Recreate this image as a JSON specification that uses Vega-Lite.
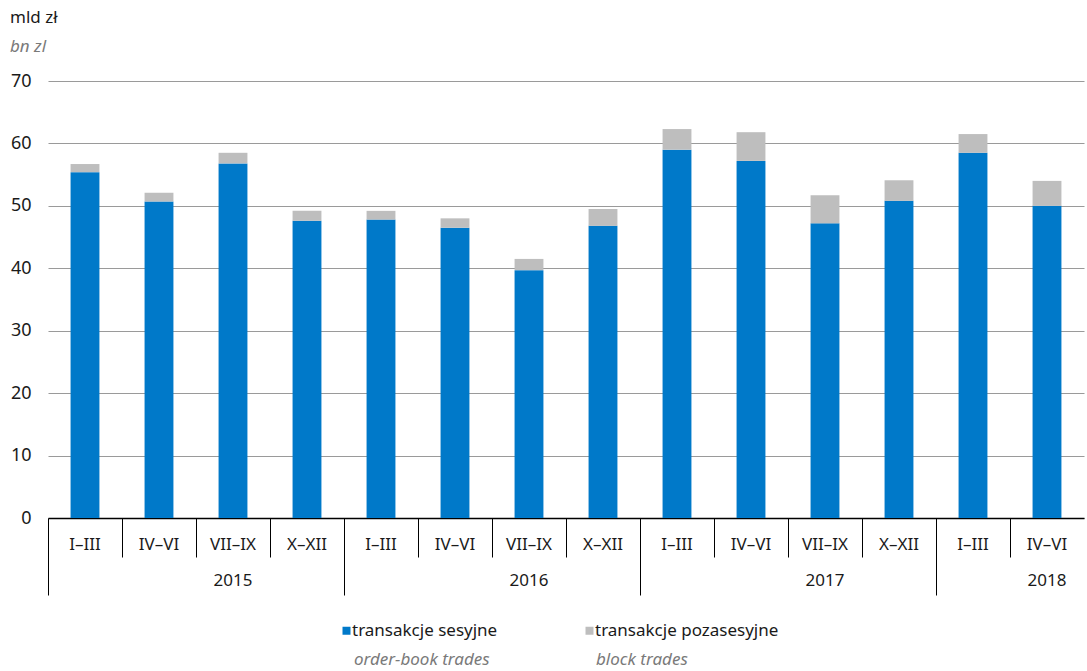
{
  "$schema": "https://vega.github.io/schema/vega-lite/v6.json",
  "width": 1036,
  "height": 437,
  "autosize": {"type": "none"},
  "padding": {"left": 48, "top": 81, "right": 3, "bottom": 153},
  "background": "white",
  "title": {
    "text": "mld zł",
    "subtitle": "bn zl",
    "anchor": "start",
    "frame": "group",
    "dx": -38,
    "offset": 16,
    "font": "Noto Sans",
    "fontSize": 17,
    "fontWeight": "normal",
    "color": "#1a1a1a",
    "subtitleFont": "Noto Sans",
    "subtitleFontSize": 17,
    "subtitleFontStyle": "italic",
    "subtitleColor": "#7a7a7a",
    "subtitlePadding": 12
  },
  "data": {
    "values": [
      {"okres": "2015 I–III", "typ": "transakcje sesyjne", "en": "order-book trades", "ord": 1, "v": 55.4},
      {"okres": "2015 I–III", "typ": "transakcje pozasesyjne", "en": "block trades", "ord": 2, "v": 1.3},
      {"okres": "2015 IV–VI", "typ": "transakcje sesyjne", "en": "order-book trades", "ord": 1, "v": 50.7},
      {"okres": "2015 IV–VI", "typ": "transakcje pozasesyjne", "en": "block trades", "ord": 2, "v": 1.4},
      {"okres": "2015 VII–IX", "typ": "transakcje sesyjne", "en": "order-book trades", "ord": 1, "v": 56.8},
      {"okres": "2015 VII–IX", "typ": "transakcje pozasesyjne", "en": "block trades", "ord": 2, "v": 1.7},
      {"okres": "2015 X–XII", "typ": "transakcje sesyjne", "en": "order-book trades", "ord": 1, "v": 47.6},
      {"okres": "2015 X–XII", "typ": "transakcje pozasesyjne", "en": "block trades", "ord": 2, "v": 1.6},
      {"okres": "2016 I–III", "typ": "transakcje sesyjne", "en": "order-book trades", "ord": 1, "v": 47.8},
      {"okres": "2016 I–III", "typ": "transakcje pozasesyjne", "en": "block trades", "ord": 2, "v": 1.4},
      {"okres": "2016 IV–VI", "typ": "transakcje sesyjne", "en": "order-book trades", "ord": 1, "v": 46.5},
      {"okres": "2016 IV–VI", "typ": "transakcje pozasesyjne", "en": "block trades", "ord": 2, "v": 1.5},
      {"okres": "2016 VII–IX", "typ": "transakcje sesyjne", "en": "order-book trades", "ord": 1, "v": 39.7},
      {"okres": "2016 VII–IX", "typ": "transakcje pozasesyjne", "en": "block trades", "ord": 2, "v": 1.8},
      {"okres": "2016 X–XII", "typ": "transakcje sesyjne", "en": "order-book trades", "ord": 1, "v": 46.8},
      {"okres": "2016 X–XII", "typ": "transakcje pozasesyjne", "en": "block trades", "ord": 2, "v": 2.7},
      {"okres": "2017 I–III", "typ": "transakcje sesyjne", "en": "order-book trades", "ord": 1, "v": 59.0},
      {"okres": "2017 I–III", "typ": "transakcje pozasesyjne", "en": "block trades", "ord": 2, "v": 3.3},
      {"okres": "2017 IV–VI", "typ": "transakcje sesyjne", "en": "order-book trades", "ord": 1, "v": 57.2},
      {"okres": "2017 IV–VI", "typ": "transakcje pozasesyjne", "en": "block trades", "ord": 2, "v": 4.6},
      {"okres": "2017 VII–IX", "typ": "transakcje sesyjne", "en": "order-book trades", "ord": 1, "v": 47.2},
      {"okres": "2017 VII–IX", "typ": "transakcje pozasesyjne", "en": "block trades", "ord": 2, "v": 4.5},
      {"okres": "2017 X–XII", "typ": "transakcje sesyjne", "en": "order-book trades", "ord": 1, "v": 50.8},
      {"okres": "2017 X–XII", "typ": "transakcje pozasesyjne", "en": "block trades", "ord": 2, "v": 3.3},
      {"okres": "2018 I–III", "typ": "transakcje sesyjne", "en": "order-book trades", "ord": 1, "v": 58.5},
      {"okres": "2018 I–III", "typ": "transakcje pozasesyjne", "en": "block trades", "ord": 2, "v": 3.0},
      {"okres": "2018 IV–VI", "typ": "transakcje sesyjne", "en": "order-book trades", "ord": 1, "v": 50.0},
      {"okres": "2018 IV–VI", "typ": "transakcje pozasesyjne", "en": "block trades", "ord": 2, "v": 4.0}
    ]
  },
  "layer": [
    {
      "mark": {"type": "bar", "width": {"band": 0.39}},
      "encoding": {
        "x": {
          "field": "okres",
          "type": "nominal",
          "sort": null,
          "title": null,
          "scale": {"paddingInner": 0, "paddingOuter": 0},
          "axis": {
            "orient": "bottom",
            "ticks": false,
            "grid": false,
            "domainColor": "#000000",
            "domainWidth": 1.5,
            "labelAngle": 0,
            "labelPadding": 18,
            "labelFont": "Noto Sans",
            "labelFontSize": 17,
            "labelColor": "#1a1a1a",
            "labelExpr": "split(datum.value, ' ')[1]"
          }
        },
        "y": {
          "field": "v",
          "type": "quantitative",
          "stack": "zero",
          "title": null,
          "scale": {"domain": [0, 70], "nice": false},
          "axis": {
            "values": [0, 10, 20, 30, 40, 50, 60, 70],
            "ticks": false,
            "domain": false,
            "gridColor": "#9a9a9a",
            "gridWidth": 1.2,
            "labelPadding": 17,
            "labelFont": "Noto Sans",
            "labelFontSize": 18,
            "labelColor": "#1a1a1a"
          }
        },
        "color": {
          "field": "typ",
          "type": "nominal",
          "title": null,
          "scale": {
            "domain": ["transakcje sesyjne", "transakcje pozasesyjne"],
            "range": ["#0079C9", "#BEBEBE"]
          },
          "legend": {
            "orient": "none",
            "legendX": 290,
            "legendY": 541,
            "direction": "horizontal",
            "symbolType": "square",
            "symbolSize": 64,
            "symbolStrokeWidth": 0,
            "labelOffset": -3,
            "labelLimit": 400,
            "columnPadding": 83,
            "labelFont": "Noto Sans",
            "labelFontSize": 17,
            "labelColor": "#1a1a1a"
          }
        },
        "opacity": {
          "field": "en",
          "type": "nominal",
          "title": null,
          "scale": {
            "domain": ["order-book trades", "block trades"],
            "range": [1, 1]
          },
          "legend": {
            "orient": "none",
            "legendX": 290,
            "legendY": 570,
            "direction": "horizontal",
            "symbolType": "square",
            "symbolSize": 0,
            "symbolStrokeWidth": 0,
            "labelOffset": -1,
            "labelLimit": 400,
            "columnPadding": 90,
            "labelFont": "Noto Sans",
            "labelFontSize": 17,
            "labelFontStyle": "italic",
            "labelColor": "#7a7a7a"
          }
        },
        "order": {"field": "ord", "type": "quantitative"}
      }
    },
    {
      "mark": {"type": "rule", "strokeOpacity": 0},
      "encoding": {
        "x": {
          "field": "okres",
          "type": "nominal",
          "sort": null,
          "axis": {
            "orient": "bottom",
            "title": null,
            "labels": false,
            "domain": false,
            "grid": false,
            "bandPosition": 0,
            "tickColor": "#000000",
            "tickWidth": 1,
            "tickSize": {
              "condition": {"test": "indexof(datum.value, 'I–III') >= 0", "value": 77},
              "value": 39
            }
          }
        }
      }
    },
    {
      "mark": {"type": "rule", "strokeOpacity": 0},
      "encoding": {
        "x": {
          "field": "okres",
          "type": "nominal",
          "sort": null,
          "axis": {
            "orient": "bottom",
            "title": null,
            "ticks": false,
            "domain": false,
            "grid": false,
            "bandPosition": 0,
            "labelAngle": 0,
            "labelPadding": 54,
            "labelOverlap": false,
            "labelBound": false,
            "labelFlush": false,
            "labelFont": "Noto Sans",
            "labelFontSize": 17,
            "labelColor": "#1a1a1a",
            "labelExpr": "(indexof(datum.value, 'VII–IX') >= 0 && indexof(datum.value, '2018') < 0) || datum.value == '2018 IV–VI' ? split(datum.value, ' ')[0] : ''"
          }
        }
      }
    }
  ],
  "resolve": {"axis": {"x": "independent"}},
  "config": {
    "view": {"stroke": null}
  }
}
